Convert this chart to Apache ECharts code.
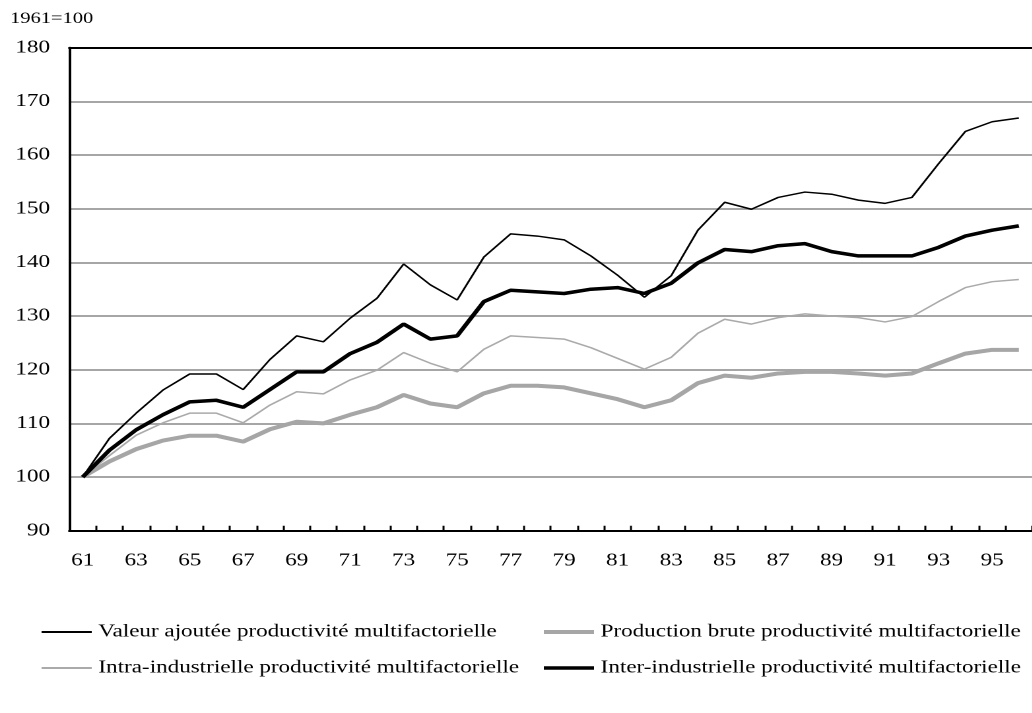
<!DOCTYPE html>
<html>
<head>
<meta charset="utf-8">
<script src="https://cdn.jsdelivr.net/npm/echarts@6/dist/echarts.min.js"></script>
<style>
html,body{margin:0;padding:0;background:#fff;overflow:hidden;}
#wrap{width:1032px;height:713px;overflow:hidden;}
#chart{width:782px;height:713px;transform:scaleX(1.32);transform-origin:0 0;}
</style>
</head>
<body>
<div id="wrap"><div id="chart"></div></div>
<script>
var years = ['61','62','63','64','65','66','67','68','69','70','71','72','73','74','75','76','77','78','79','80','81','82','83','84','85','86','87','88','89','90','91','92','93','94','95','96'];
var valeurAjoutee = [100,107.2,111.9,116.2,119.2,119.2,116.3,121.9,126.3,125.2,129.6,133.3,139.7,135.8,133.0,141.0,145.3,144.9,144.2,141.2,137.6,133.5,137.5,146.0,151.2,149.9,152.1,153.1,152.7,151.6,151.0,152.1,158.4,164.4,166.2,166.9];
var productionBrute = [100,102.9,105.2,106.8,107.7,107.7,106.6,108.9,110.3,110.0,111.6,113.0,115.3,113.7,113.0,115.6,117.0,117.0,116.7,115.6,114.5,113.0,114.3,117.5,118.9,118.5,119.3,119.6,119.6,119.3,118.9,119.3,121.2,123.0,123.7,123.7];
var intraIndustrielle = [100,104.0,107.8,110.1,111.9,111.9,110.1,113.4,115.9,115.5,118.1,119.9,123.2,121.2,119.6,123.8,126.3,126.0,125.7,124.1,122.1,120.1,122.3,126.8,129.4,128.5,129.7,130.4,130.0,129.7,128.9,129.9,132.7,135.3,136.4,136.8];
var interIndustrielle = [100,105.0,108.8,111.6,114.0,114.3,113.0,116.3,119.6,119.6,123.0,125.1,128.5,125.7,126.3,132.7,134.8,134.5,134.2,135.0,135.3,134.2,136.1,139.9,142.4,142.0,143.1,143.5,142.0,141.2,141.2,141.2,142.8,144.9,146.0,146.8];
var names = ['Valeur ajoutée productivité multifactorielle','Production brute productivité multifactorielle','Intra-industrielle productivité multifactorielle','Inter-industrielle productivité multifactorielle'];

var FONT = '"Liberation Serif", "Times New Roman", serif';
var chart = echarts.init(document.getElementById('chart'), null, {renderer:'canvas', devicePixelRatio:2});

function legendAt(name, left, top, h){
  return {
    data:[name], left:left, top:top, itemWidth:38, itemHeight:h, padding:0, icon:'rect',
    itemGap:4,
    textStyle:{fontFamily:FONT, fontSize:17.5, color:'#000'}
  };
}

var option = {
  animation:false,
  backgroundColor:'#fff',
  title:{text:'1961=100', left:7.6, top:11, padding:0, textStyle:{fontFamily:FONT, fontSize:15.5, fontWeight:'normal', color:'#000'}},
  grid:{left:52.5, top:47.7, width:736.4, height:483, containLabel:false},
  legend:[
    legendAt(names[0], 31.5, 623, 2),
    legendAt(names[1], 412, 623, 4),
    legendAt(names[2], 31.5, 659, 2),
    legendAt(names[3], 412, 659, 3.5)
  ],
  xAxis:[{
    type:'category', data:years, boundaryGap:true, position:'bottom',
    axisLine:{lineStyle:{color:'#000', width:2}},
    axisTick:{show:true, inside:true, length:5, interval:0, lineStyle:{color:'#000', width:1.5}},
    axisLabel:{interval:1, margin:21, fontFamily:FONT, fontSize:17.5, color:'#000'},
    splitLine:{show:false}
  },{
    type:'category', data:years, position:'top',
    axisLine:{lineStyle:{color:'#000', width:2}},
    axisTick:{show:false}, axisLabel:{show:false}, splitLine:{show:false}
  }],
  yAxis:{
    type:'value', min:90, max:180, interval:10,
    axisLine:{show:true, lineStyle:{color:'#000', width:2}},
    axisTick:{show:false},
    axisLabel:{margin:14.6, fontFamily:FONT, fontSize:17.5, color:'#000'},
    splitLine:{show:true, lineStyle:{color:'#a6a6a6', width:2}}
  },
  series:[
    {name:names[0], type:'line', data:valeurAjoutee, symbol:'none', color:'#000', lineStyle:{color:'#000', width:1.5}, z:5},
    {name:names[1], type:'line', data:productionBrute, symbol:'none', color:'#a6a6a6', lineStyle:{color:'#a6a6a6', width:4}, z:3},
    {name:names[2], type:'line', data:intraIndustrielle, symbol:'none', color:'#aaaaaa', lineStyle:{color:'#aaaaaa', width:1.5}, z:4},
    {name:names[3], type:'line', data:interIndustrielle, symbol:'none', color:'#000', lineStyle:{color:'#000', width:3.5}, z:6}
  ]
};
chart.setOption(option);
</script>
</body>
</html>
